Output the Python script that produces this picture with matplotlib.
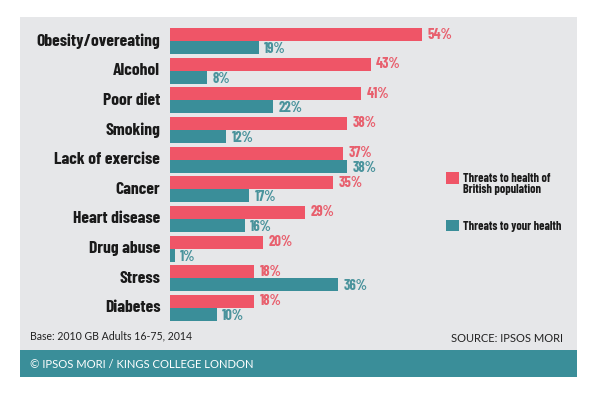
import matplotlib.pyplot as plt
from matplotlib.patches import Rectangle

categories = ['Obesity/overeating', 'Alcohol', 'Poor diet', 'Smoking', 'Lack of exercise',
              'Cancer', 'Heart disease', 'Drug abuse', 'Stress', 'Diabetes']
british = [54, 43, 41, 38, 37, 35, 29, 20, 18, 18]
yours = [19, 8, 22, 12, 38, 17, 16, 1, 36, 10]
legend_labels = ['Threats to health of\nBritish population', 'Threats to your health']

red = '#ef5567'
teal = '#3a8e99'
panel = '#e6e7e9'
cond = ['Barlow Condensed', 'DejaVu Sans']

W, H = 600, 400
fig = plt.figure(figsize=(6, 4), dpi=100)
fig.patch.set_facecolor('white')

def fx(px):
    return px / W

def fy(py):
    return 1 - py / H

# grey panel and teal footer band
fig.patches.append(Rectangle((fx(20), fy(350)), fx(557), 333 / H, transform=fig.transFigure,
                             facecolor=panel, edgecolor='none', zorder=0))
fig.patches.append(Rectangle((fx(20), fy(377)), fx(557), 27 / H, transform=fig.transFigure,
                             facecolor=teal, edgecolor='none', zorder=0))

ax = fig.add_axes([fx(170), fy(350), fx(407), 333 / H], zorder=2)
ax.set_facecolor('none')
ax.set_xlim(0, 407 / 4.667)
ax.set_ylim(10.416, -0.809)
ax.axis('off')

h = 13 / 29.67
ys = list(range(len(categories)))
ax.barh([y - h / 2 for y in ys], british, height=h, color=red, align='center')
ax.barh([y + h / 2 for y in ys], yours, height=h, color=teal, align='center')

for y, v in zip(ys, british):
    ax.annotate(f'{v}%', (v, y - h / 2), xytext=(4, 0), textcoords='offset points',
                va='center', ha='left', color='#e8606e', fontsize=10.5,
                fontweight='bold', family=cond, annotation_clip=False)
for y, v in zip(ys, yours):
    ax.annotate(f'{v}%', (v, y + h / 2), xytext=(4, -1), textcoords='offset points',
                va='center', ha='left', color='#4a939c', fontsize=10.5,
                fontweight='bold', family=cond, annotation_clip=False)
for y, c in zip(ys, categories):
    ax.annotate(c, (0, y), xytext=(-7, 0), textcoords='offset points',
                va='center', ha='right', color='#1a1a1a', fontsize=12.7,
                fontweight='bold', family=cond, annotation_clip=False)

# legend
fig.patches.append(Rectangle((fx(446), fy(184)), fx(13), 12 / H, transform=fig.transFigure,
                             facecolor=red, edgecolor='none', zorder=3))
fig.patches.append(Rectangle((fx(446), fy(231)), fx(13), 11 / H, transform=fig.transFigure,
                             facecolor=teal, edgecolor='none', zorder=3))
fig.text(fx(463), fy(173), legend_labels[0], va='top', ha='left', fontsize=8.8,
         fontweight='bold', family=cond, color='#1a1a1a', linespacing=1.0, zorder=3)
fig.text(fx(463), fy(227), legend_labels[1], va='center', ha='left', fontsize=8.8,
         fontweight='bold', family=cond, color='#1a1a1a', zorder=3)

fig.text(fx(30), fy(336), 'Base: 2010 GB Adults 16-75, 2014', va='center', ha='left',
         fontsize=7.6, family='Lato', color='#222222', zorder=3)
fig.text(fx(563), fy(338), 'SOURCE: IPSOS MORI', va='center', ha='right',
         fontsize=8, family='Lato', color='#222222', zorder=3)
fig.text(fx(30), fy(364), '\u00a9 IPSOS MORI / KINGS COLLEGE LONDON', va='center', ha='left',
         fontsize=8.1, family='Lato', color='white', zorder=3)

fig.savefig('out.png', dpi=100)
